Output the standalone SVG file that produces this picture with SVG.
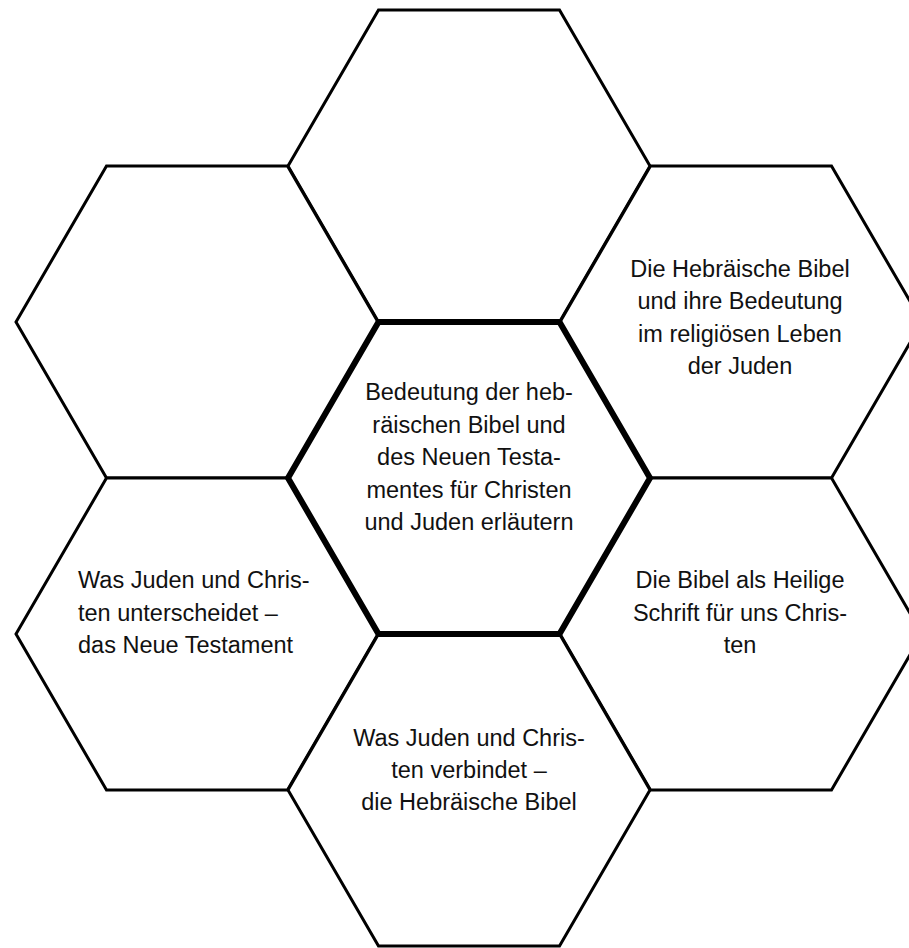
<svg xmlns="http://www.w3.org/2000/svg" xmlns:xlink="http://www.w3.org/1999/xlink" width="909" height="948" viewBox="0 0 909 948">
<style>
.hex{fill:#fff;stroke:#000;stroke-width:3;stroke-linejoin:miter}
.hexc{fill:#fff;stroke:#000;stroke-width:6;stroke-linejoin:miter}
.t{font-family:"Liberation Sans",Arial,sans-serif;font-size:23.5px;fill:#111;text-anchor:middle}
.tl{text-anchor:start}
</style>
<defs>
<polygon id="hx" points="-90.5,-156 90.5,-156 181,0 90.5,156 -90.5,156 -181,0"/>
</defs>
<rect width="909" height="948" fill="#fff"/>
<g id="hex-top"><use xlink:href="#hx" href="#hx" class="hex" transform="translate(469,166)"/></g>
<g id="hex-topleft"><use xlink:href="#hx" href="#hx" class="hex" transform="translate(197,322)"/></g>
<g id="hex-topright"><use xlink:href="#hx" href="#hx" class="hex" transform="translate(741,322)"/>
<text class="t" x="740"><tspan x="740" y="277">Die Hebräische Bibel</tspan><tspan x="740" y="309">und ihre Bedeutung</tspan><tspan x="740" y="342">im religiösen Leben</tspan><tspan x="740" y="374">der Juden</tspan></text></g>
<g id="hex-bottomleft"><use xlink:href="#hx" href="#hx" class="hex" transform="translate(197,634)"/>
<text class="t tl"><tspan x="78" y="588">Was Juden und Chris-</tspan><tspan x="78" y="621">ten unterscheidet –</tspan><tspan x="78" y="653">das Neue Testament</tspan></text></g>
<g id="hex-bottomright"><use xlink:href="#hx" href="#hx" class="hex" transform="translate(741,634)"/>
<text class="t"><tspan x="740" y="588">Die Bibel als Heilige</tspan><tspan x="740" y="621">Schrift für uns Chris-</tspan><tspan x="740" y="653">ten</tspan></text></g>
<g id="hex-bottom"><use xlink:href="#hx" href="#hx" class="hex" transform="translate(469,790)"/>
<text class="t"><tspan x="469" y="746">Was Juden und Chris-</tspan><tspan x="469" y="778">ten verbindet –</tspan><tspan x="469" y="810">die Hebräische Bibel</tspan></text></g>
<g id="hex-center"><use xlink:href="#hx" href="#hx" class="hexc" transform="translate(469,478)"/>
<text class="t"><tspan x="469" y="400">Bedeutung der heb-</tspan><tspan x="469" y="433">räischen Bibel und</tspan><tspan x="469" y="465">des Neuen Testa-</tspan><tspan x="469" y="498">mentes für Christen</tspan><tspan x="469" y="530">und Juden erläutern</tspan></text></g>
<g id="connectors"></g>
</svg>
